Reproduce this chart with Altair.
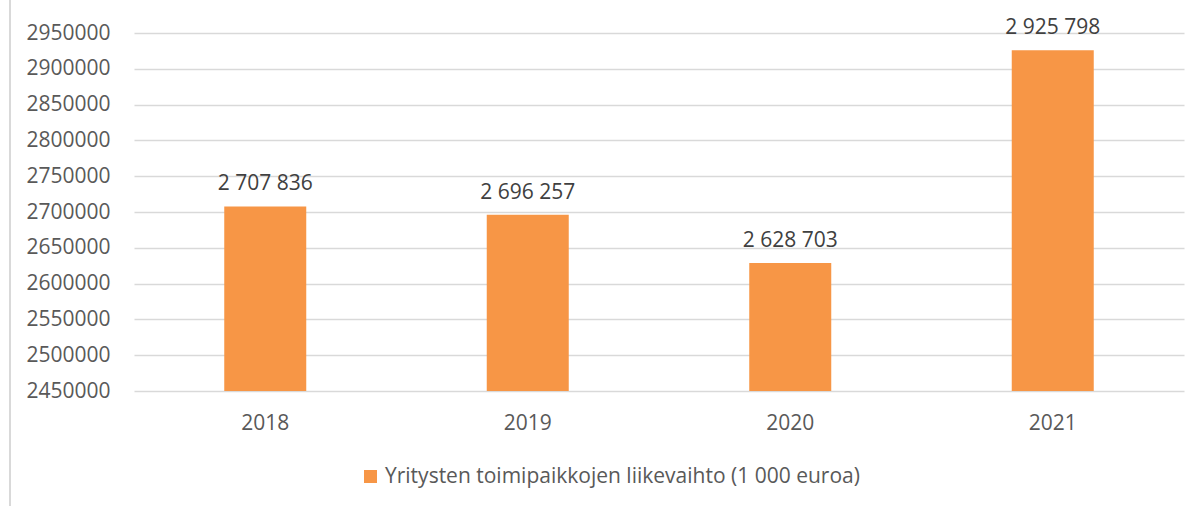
import altair as alt
import pandas as pd

years = ["2018", "2019", "2020", "2021"]
values = [2707836, 2696257, 2628703, 2925798]
series_name = "Yritysten toimipaikkojen liikevaihto (1 000 euroa)"
y_ticks = [2450000, 2500000, 2550000, 2600000, 2650000, 2700000,
           2750000, 2800000, 2850000, 2900000, 2950000]

df = pd.DataFrame({
    "year": years,
    "value": values,
    "label": [f"{v:,}".replace(",", " ") for v in values],
    "series": [series_name] * len(years),
})

FONT = "Open Sans"
ORANGE = "#F79646"
GRID = "#D9D9D9"
FS = 21

x_scale = alt.Scale(paddingInner=0.6876, paddingOuter=0.3438)
x_axis = alt.Axis(labelAngle=0, ticks=False, domain=False,
                  labelFontSize=FS, labelColor="#595959",
                  labelFont=FONT, labelPadding=21)
y_scale = alt.Scale(domain=[2450000, 2950000], zero=False, nice=False)
y_axis = alt.Axis(values=y_ticks, format="d", ticks=False, domain=False,
                  grid=True, gridColor=GRID, gridWidth=1.5,
                  labelOverlap=False,
                  labelFontSize=FS, labelColor="#595959",
                  labelFont=FONT, labelPadding=24)

bars = alt.Chart(df).mark_bar(color=ORANGE).encode(
    x=alt.X("year:N", title=None, scale=x_scale, axis=x_axis),
    y=alt.Y("value:Q", title=None, scale=y_scale, axis=y_axis),
    y2=alt.datum(2450000),
    color=alt.Color("series:N", scale=alt.Scale(range=[ORANGE]),
                    legend=alt.Legend(title=None, orient="none",
                                      legendX=226, legendY=433,
                                      symbolType="square", symbolSize=169,
                                      symbolStrokeWidth=0,
                                      labelFontSize=FS, labelColor="#595959",
                                      labelFont=FONT, labelLimit=800)),
)

labels = alt.Chart(df).mark_text(dy=-22, fontSize=FS, font=FONT,
                                 color="#404040").encode(
    x=alt.X("year:N", title=None, scale=x_scale, axis=x_axis),
    y=alt.Y("value:Q", title=None, scale=y_scale, axis=y_axis),
    text="label:N",
)

border = alt.Chart(df).mark_rule(color=GRID, strokeWidth=2).encode(
    x=alt.value(-124), y=alt.value(-33), y2=alt.value(473)
)

chart = alt.layer(bars, labels, border).properties(
    width=1050, height=358,
    autosize=alt.AutoSizeParams(type="none"),
    padding={"left": 134, "top": 33, "right": 16, "bottom": 115},
).configure_view(stroke=None).configure_axis(labelFont=FONT)

chart.save("out.html", embed_options={"renderer": "svg", "actions": False})
